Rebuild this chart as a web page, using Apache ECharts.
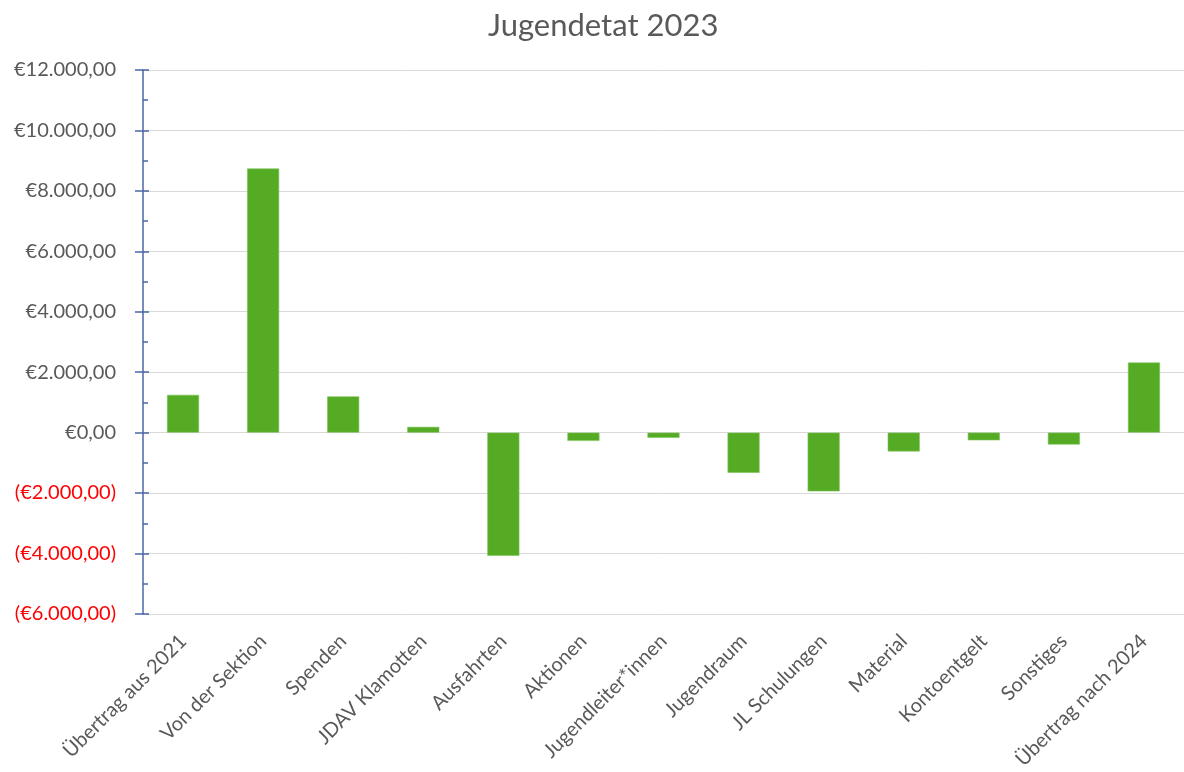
<!DOCTYPE html>
<html>
<head>
<meta charset="utf-8">
<script src="https://cdn.jsdelivr.net/npm/echarts@6/dist/echarts.min.js"></script>
<style>html,body{margin:0;padding:0;background:#fff;}#c{width:1184px;height:772px;}</style>
</head>
<body>
<div id="c"></div>
<script>
const titleText = 'Jugendetat 2023';
const categories = ['Übertrag aus 2021','Von der Sektion','Spenden','JDAV Klamotten','Ausfahrten','Aktionen','Jugendleiter*innen','Jugendraum','JL Schulungen','Material','Kontoentgelt','Sonstiges','Übertrag nach 2024'];
const values = [1250, 8740, 1200, 190, -4080, -275, -175, -1330, -1945, -625, -255, -395, 2320];
const yMin = -6000, yMax = 12000, yStep = 2000;

function fmtEuro(v){
  const a = Math.abs(v);
  const s = a.toFixed(2).split('.');
  const intPart = s[0].replace(/\B(?=(\d{3})+(?!\d))/g, '.');
  const txt = '€' + intPart + ',' + s[1];
  return v < 0 ? '(' + txt + ')' : txt;
}

const FONT = 'Lato, "Open Sans", sans-serif';
const chart = echarts.init(document.getElementById('c'));
chart.setOption({
  animation: false,
  title: {text: titleText, left: 483, top: 5, textStyle: {fontFamily: FONT, fontSize: 31, fontWeight: 'normal', color: '#595959'}},
  grid: {left: 143, right: 0, top: 70, bottom: 156, containLabel: false},
  xAxis: {
    type: 'category', data: categories,
    axisLine: {show: false, onZero: false}, axisTick: {show: false},
    axisLabel: {rotate: 45, interval: 0, margin: 24, fontFamily: FONT, fontSize: 20, color: '#595959'}
  },
  yAxis: [{
    type: 'value', min: yMin, max: yMax, interval: yStep,
    axisLine: {show: true, lineStyle: {color: '#4A67A8', width: 1.5}},
    axisTick: {show: true, inside: true, length: 6, lineStyle: {color: '#4A67A8', width: 1.5}},
    minorTick: {show: true, splitNumber: 2, length: 5, lineStyle: {color: '#4A67A8', width: 1.5}},
    splitLine: {show: true, lineStyle: {color: '#D9D9D9', width: 1}},
    axisLabel: {margin: 27, fontFamily: FONT, fontSize: 20, formatter: fmtEuro,
      color: function(v){ return Number(v) < 0 ? '#FF0000' : '#595959'; }}
  }, {
    type: 'value', min: yMin, max: yMax, interval: yStep, position: 'left', offset: 0,
    axisLine: {show: false}, axisLabel: {show: false}, splitLine: {show: false},
    axisTick: {show: true, inside: false, length: 8, lineStyle: {color: '#4A67A8', width: 1.5}}
  }],
  series: [{
    type: 'bar', data: values, barWidth: '40%',
    itemStyle: {color: '#56AB24', borderColor: '#7CC45A', borderWidth: 0.6}
  }]
});
</script>
</body>
</html>
